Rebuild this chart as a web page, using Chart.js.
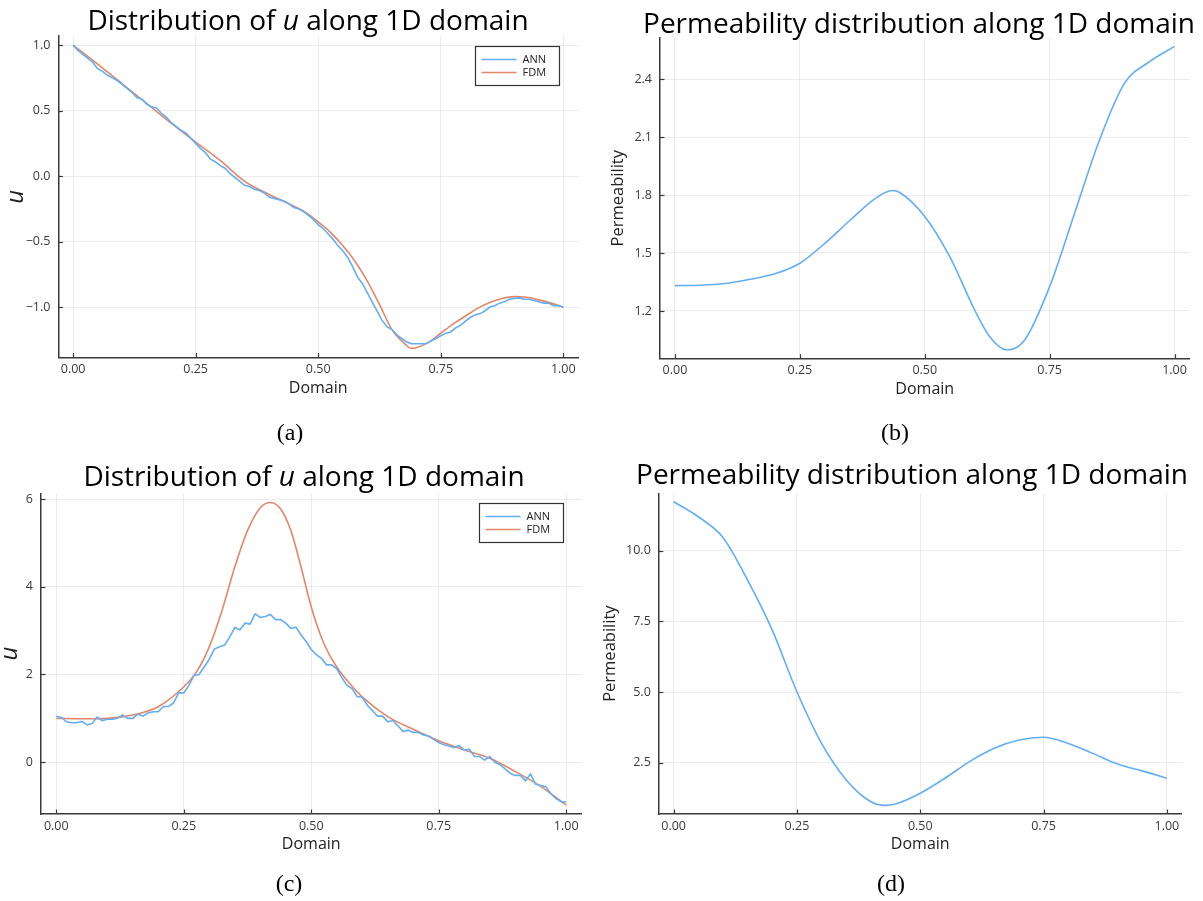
<!DOCTYPE html>
<html>
<head>
<meta charset="utf-8">
<script src="https://cdn.jsdelivr.net/npm/chart.js@4.4.1/dist/chart.umd.min.js"></script>
<style>
  html, body { margin: 0; padding: 0; background: #fff; width: 1203px; height: 901px; overflow: hidden; }
  .panel { position: absolute; }
  .panel canvas { display: block; }
  .caption { position: absolute; font-family: "Liberation Serif", "Times New Roman", serif; font-size: 24px; color: #000; transform: translate(-50%, -50%); white-space: nowrap; }
</style>
</head>
<body>
<div class="panel" style="left:0px;top:0px;"><canvas id="chartA" width="600" height="450"></canvas></div>
<div class="panel" style="left:600px;top:0px;"><canvas id="chartB" width="603" height="450"></canvas></div>
<div class="panel" style="left:0px;top:450px;"><canvas id="chartC" width="600" height="451"></canvas></div>
<div class="panel" style="left:600px;top:450px;"><canvas id="chartD" width="603" height="451"></canvas></div>
<div class="caption" style="left:290px;top:432px;">(a)</div>
<div class="caption" style="left:895px;top:432px;">(b)</div>
<div class="caption" style="left:289px;top:883px;">(c)</div>
<div class="caption" style="left:891px;top:883px;">(d)</div>

<script>
// ---------- data ----------
const seriesLabels = ['ANN', 'FDM'];
const domainTicks = [0, 0.25, 0.5, 0.75, 1.0];

// sampling grid of the network output (101 nodes)
const annDomain = [0.00,0.01,0.02,0.03,0.04,0.05,0.06,0.07,0.08,0.09,
  0.10,0.11,0.12,0.13,0.14,0.15,0.16,0.17,0.18,0.19,
  0.20,0.21,0.22,0.23,0.24,0.25,0.26,0.27,0.28,0.29,
  0.30,0.31,0.32,0.33,0.34,0.35,0.36,0.37,0.38,0.39,
  0.40,0.41,0.42,0.43,0.44,0.45,0.46,0.47,0.48,0.49,
  0.50,0.51,0.52,0.53,0.54,0.55,0.56,0.57,0.58,0.59,
  0.60,0.61,0.62,0.63,0.64,0.65,0.66,0.67,0.68,0.69,
  0.70,0.71,0.72,0.73,0.74,0.75,0.76,0.77,0.78,0.79,
  0.80,0.81,0.82,0.83,0.84,0.85,0.86,0.87,0.88,0.89,
  0.90,0.91,0.92,0.93,0.94,0.95,0.96,0.97,0.98,0.99,
  1.00];

// (a) solution u, case 1
const uAnnCase1 = [1.00,0.96,0.93,0.90,0.87,0.82,0.80,0.77,0.75,0.73,
  0.70,0.67,0.64,0.60,0.59,0.55,0.53,0.52,0.48,0.45,
  0.41,0.38,0.35,0.33,0.29,0.25,0.21,0.18,0.13,0.11,
  0.08,0.06,0.02,-0.01,-0.04,-0.07,-0.08,-0.10,-0.11,-0.13,
  -0.16,-0.17,-0.18,-0.19,-0.21,-0.24,-0.25,-0.27,-0.30,-0.33,
  -0.37,-0.40,-0.44,-0.48,-0.53,-0.57,-0.62,-0.69,-0.77,-0.82,
  -0.89,-0.96,-1.03,-1.10,-1.15,-1.17,-1.21,-1.24,-1.265,-1.28,
  -1.28,-1.28,-1.28,-1.26,-1.24,-1.22,-1.20,-1.19,-1.16,-1.14,
  -1.11,-1.08,-1.06,-1.05,-1.03,-1.00,-0.99,-0.97,-0.96,-0.94,
  -0.935,-0.93,-0.94,-0.94,-0.95,-0.96,-0.97,-0.97,-0.99,-0.99,
  -1.00];
const fdmDomainCase1 = [0,0.05,0.10,0.15,0.20,0.25,0.30,0.35,0.40,0.45,0.475,0.50,0.525,0.55,0.575,0.60,0.625,0.65,0.675,0.69,0.70,0.725,0.75,0.775,0.80,0.825,0.85,0.875,0.90,0.925,0.95,0.975,1.0];
const uFdmCase1 = [1.0,0.855,0.705,0.555,0.405,0.26,0.12,-0.04,-0.14,-0.23,-0.28,-0.35,-0.43,-0.53,-0.65,-0.80,-0.98,-1.17,-1.275,-1.315,-1.31,-1.27,-1.20,-1.13,-1.07,-1.01,-0.965,-0.935,-0.92,-0.925,-0.945,-0.97,-1.0];

// (b) permeability, case 1
const permDomainCase1 = [0,0.05,0.10,0.15,0.20,0.25,0.30,0.35,0.40,0.435,0.45,0.50,0.55,0.60,0.63,0.665,0.70,0.75,0.80,0.85,0.90,0.95,1.0];
const permCase1 = [1.331,1.333,1.342,1.364,1.392,1.447,1.55,1.668,1.78,1.823,1.813,1.689,1.481,1.205,1.067,0.998,1.05,1.326,1.706,2.086,2.379,2.49,2.569];

// (c) solution u, case 2
const uAnnCase2 = [1.05,1.02,0.92,0.90,0.90,0.93,0.85,0.88,1.03,0.95,
  0.98,0.98,1.00,1.08,1.00,1.00,1.10,1.05,1.12,1.15,
  1.15,1.27,1.27,1.35,1.58,1.58,1.75,1.98,2.00,2.17,
  2.35,2.58,2.63,2.67,2.85,3.07,3.02,3.17,3.15,3.38,
  3.30,3.32,3.37,3.25,3.25,3.17,3.05,3.08,2.90,2.75,
  2.57,2.45,2.37,2.22,2.22,2.13,1.93,1.75,1.68,1.50,
  1.48,1.30,1.18,1.05,1.05,0.92,0.95,0.83,0.70,0.73,
  0.68,0.68,0.62,0.60,0.52,0.45,0.40,0.37,0.33,0.38,
  0.27,0.30,0.13,0.13,0.05,0.13,0.00,-0.05,-0.15,-0.25,
  -0.30,-0.30,-0.42,-0.27,-0.50,-0.53,-0.56,-0.72,-0.83,-0.90,
  -0.90];
const fdmDomainCase2 = [0,0.05,0.10,0.15,0.20,0.25,0.275,0.30,0.325,0.35,0.375,0.40,0.42,0.44,0.46,0.48,0.50,0.525,0.55,0.575,0.60,0.65,0.70,0.75,0.80,0.85,0.90,0.95,1.0];
const uFdmCase2 = [1.0,0.99,1.0,1.076,1.265,1.72,2.06,2.63,3.46,4.45,5.28,5.80,5.92,5.77,5.28,4.45,3.54,2.70,2.17,1.80,1.49,1.04,0.75,0.49,0.28,0.09,-0.21,-0.55,-0.977];

// (d) permeability, case 2
const permDomainCase2 = [0,0.05,0.10,0.15,0.20,0.25,0.30,0.35,0.40,0.43,0.45,0.50,0.55,0.60,0.65,0.70,0.75,0.80,0.85,0.90,0.95,1.0];
const permCase2 = [11.73,11.2,10.47,8.96,7.19,5.01,3.18,1.89,1.12,0.99,1.04,1.42,1.95,2.54,3.01,3.30,3.40,3.18,2.83,2.45,2.21,1.95];

// tick values
const uTicksCase1 = [-1.0, -0.5, 0.0, 0.5, 1.0];
const permTicksCase1 = [1.2, 1.5, 1.8, 2.1, 2.4];
const uTicksCase2 = [0, 2, 4, 6];
const permTicksCase2 = [2.5, 5.0, 7.5, 10.0];

// ---------- styling ----------
const FONT = '"Open Sans", "Noto Sans", "DejaVu Sans", sans-serif';
const BLUE = 'rgb(98,174,246)';
const ORANGE = 'rgb(228,134,104)';
const AXIS = '#3a3a3a';
const TEXT = '#3a3a3a';

function pts(xs, ys) { return xs.map((x, i) => ({ x: x, y: ys[i] })); }
function fmt(v, d) { const s = Math.abs(v).toFixed(d); return (v < -1e-9 ? '\u2212' : '') + s; }

function titlePlugin(parts, cx, baseline, size) {
  return {
    id: 'panelTitle',
    afterDraw(chart) {
      const ctx = chart.ctx;
      ctx.save();
      ctx.fillStyle = '#000';
      ctx.textBaseline = 'alphabetic';
      ctx.textAlign = 'left';
      const fonts = parts.map(p => (p.italic ? 'italic ' : '') + size + 'px ' + FONT);
      const widths = parts.map((p, i) => { ctx.font = fonts[i]; return ctx.measureText(p.text).width; });
      let x = cx - widths.reduce((a, b) => a + b, 0) / 2;
      parts.forEach((p, i) => { ctx.font = fonts[i]; ctx.fillText(p.text, x, baseline); x += widths[i]; });
      ctx.restore();
    }
  };
}

// short tick marks pointing into the plot area
const innerTicks = {
  id: 'innerTicks',
  afterDraw(chart) {
    const { ctx, chartArea } = chart;
    const xs = chart.scales.x, ys = chart.scales.y;
    ctx.save();
    ctx.strokeStyle = AXIS;
    ctx.lineWidth = 1.2;
    xs.ticks.forEach(t => {
      const px = Math.round(xs.getPixelForValue(t.value)) + 0.5;
      ctx.beginPath(); ctx.moveTo(px, chartArea.bottom); ctx.lineTo(px, chartArea.bottom - 4.5); ctx.stroke();
    });
    ys.ticks.forEach(t => {
      const py = Math.round(ys.getPixelForValue(t.value)) + 0.5;
      ctx.beginPath(); ctx.moveTo(chartArea.left, py); ctx.lineTo(chartArea.left + 4.5, py); ctx.stroke();
    });
    ctx.restore();
  }
};

// framed legend in the upper-right corner of the plot area
function boxLegendPlugin() {
  return {
    id: 'boxLegend',
    afterDraw(chart) {
      const { ctx, chartArea } = chart;
      const w = 84, h = 39;
      const x0 = Math.round(chartArea.right - 19 - w) + 0.5;
      const y0 = Math.round(chartArea.top + 10) + 0.5;
      ctx.save();
      ctx.fillStyle = '#fff';
      ctx.fillRect(x0, y0, w, h);
      ctx.strokeStyle = '#333';
      ctx.lineWidth = 1.2;
      ctx.strokeRect(x0, y0, w, h);
      ctx.font = '11px ' + FONT;
      ctx.textBaseline = 'middle';
      ctx.textAlign = 'left';
      chart.data.datasets.forEach((ds, i) => {
        const y = y0 + 13 + i * 13;
        ctx.strokeStyle = ds.borderColor;
        ctx.lineWidth = 1.6;
        ctx.beginPath(); ctx.moveTo(x0 + 6, y); ctx.lineTo(x0 + 41, y); ctx.stroke();
        ctx.fillStyle = '#222';
        ctx.fillText(ds.label, x0 + 47, y + 0.5);
      });
      ctx.restore();
    }
  };
}

function makeChart(id, cfg) {
  const gridOpts = { color: 'rgba(0,0,0,0.075)', lineWidth: 1, drawTicks: false };
  const borderOpts = { display: true, color: AXIS, width: 1.5 };
  const plugins = [innerTicks, titlePlugin(cfg.title, cfg.titleX, cfg.titleY, 28)];
  if (cfg.legend) plugins.push(boxLegendPlugin());
  return new Chart(document.getElementById(id), {
    type: 'line',
    data: { datasets: cfg.datasets },
    plugins: plugins,
    options: {
      responsive: false,
      animation: false,
      devicePixelRatio: 1,
      layout: { padding: { left: 0, right: cfg.padRight, top: cfg.padTop, bottom: cfg.padBottom } },
      plugins: { legend: { display: false }, tooltip: { enabled: false }, title: { display: false } },
      elements: { point: { radius: 0 } },
      scales: {
        x: {
          type: 'linear', min: -0.03, max: 1.03,
          afterBuildTicks: s => { s.ticks = domainTicks.map(v => ({ value: v })); },
          afterFit: s => { s.height = 40; },
          ticks: { callback: v => fmt(v, 2), font: { family: FONT, size: 12.5 }, color: TEXT, padding: 4.5, maxRotation: 0, autoSkip: false },
          grid: gridOpts, border: borderOpts,
          title: { display: true, text: 'Domain', font: { family: FONT, size: 16 }, color: '#222', padding: 0 }
        },
        y: {
          type: 'linear', min: cfg.yMin, max: cfg.yMax,
          afterBuildTicks: s => { s.ticks = cfg.yTicks.map(v => ({ value: v })); },
          afterFit: s => { s.width = cfg.plotLeft; },
          ticks: { callback: v => fmt(v, cfg.yDigits), font: { family: FONT, size: 12.5 }, color: TEXT, padding: 8 },
          grid: gridOpts, border: borderOpts,
          title: { display: true, text: cfg.yTitle, font: cfg.yTitleFont, color: '#222', padding: { top: cfg.yTitlePad, bottom: 0 } }
        }
      }
    }
  });
}

function lineSet(label, xs, ys, color, smooth) {
  const ds = { label: label, data: pts(xs, ys), borderColor: color, backgroundColor: color, borderWidth: 1.6, pointRadius: 0, fill: false };
  if (smooth) ds.cubicInterpolationMode = 'monotone'; else ds.tension = 0;
  return ds;
}

const uTitle = [{ text: 'Distribution of ' }, { text: 'u', italic: true }, { text: ' along 1D domain' }];
const permTitle = [{ text: 'Permeability distribution along 1D domain' }];

makeChart('chartA', {
  datasets: [lineSet(seriesLabels[0], annDomain, uAnnCase1, BLUE, false), lineSet(seriesLabels[1], fdmDomainCase1, uFdmCase1, ORANGE, true)],
  yMin: -1.386, yMax: 1.07, yTicks: uTicksCase1, yDigits: 1,
  plotLeft: 58.4, padRight: 22, padTop: 36, padBottom: 52.4,
  yTitle: 'u', yTitleFont: { family: FONT, size: 24, style: 'italic', lineHeight: 1.2 }, yTitlePad: 1.6,
  title: uTitle, titleX: 308, titleY: 30, legend: true
});

makeChart('chartB', {
  datasets: [lineSet(seriesLabels[0], permDomainCase1, permCase1, BLUE, true)],
  yMin: 0.953, yMax: 2.614, yTicks: permTicksCase1, yDigits: 1,
  plotLeft: 60, padRight: 13.5, padTop: 37.7, padBottom: 51.3,
  yTitle: 'Permeability', yTitleFont: { family: FONT, size: 16.5, lineHeight: 1.2 }, yTitlePad: 8,
  title: permTitle, titleX: 319, titleY: 33, legend: false
});

makeChart('chartC', {
  datasets: [lineSet(seriesLabels[0], annDomain, uAnnCase2, BLUE, false), lineSet(seriesLabels[1], fdmDomainCase2, uFdmCase2, ORANGE, true)],
  yMin: -1.18, yMax: 6.13, yTicks: uTicksCase2, yDigits: 0,
  plotLeft: 41, padRight: 18.5, padTop: 43.3, padBottom: 47,
  yTitle: 'u', yTitleFont: { family: FONT, size: 24, style: 'italic', lineHeight: 1.0 }, yTitlePad: -2,
  title: uTitle, titleX: 304, titleY: 36, legend: true
});

makeChart('chartD', {
  datasets: [lineSet(seriesLabels[0], permDomainCase2, permCase2, BLUE, true)],
  yMin: 0.685, yMax: 12.03, yTicks: permTicksCase2, yDigits: 1,
  plotLeft: 58.8, padRight: 21.3, padTop: 43.3, padBottom: 47,
  yTitle: 'Permeability', yTitleFont: { family: FONT, size: 16.5, lineHeight: 1.2 }, yTitlePad: 0,
  title: permTitle, titleX: 312, titleY: 34, legend: false
});
</script>
</body>
</html>
